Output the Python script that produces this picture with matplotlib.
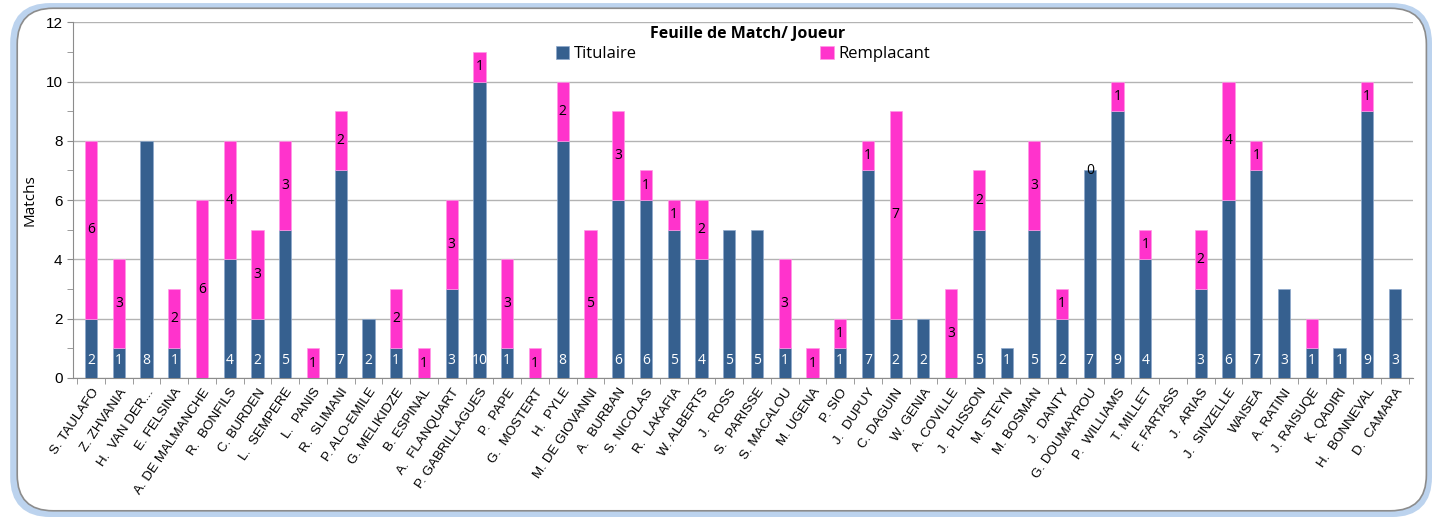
import matplotlib
matplotlib.use('Agg')
import matplotlib.pyplot as plt
from matplotlib.patches import FancyBboxPatch
from matplotlib.ticker import MultipleLocator
import numpy as np

players = ['S. TAULAFO', 'Z. ZHVANIA', 'H.  VAN DER...', 'E. FELSINA', 'A. DE MALMANCHE',
           'R.  BONFILS', 'C. BURDEN', 'L.  SEMPERE', 'L.  PANIS', 'R.  SLIMANI',
           'P. ALO-EMILE', 'G. MELIKIDZE', 'B. ESPINAL', 'A.  FLANQUART', 'P. GABRILLAGUES',
           'P.  PAPE', 'G.  MOSTERT', 'H.  PYLE', 'M. DE GIOVANNI', 'A.  BURBAN',
           'S. NICOLAS', 'R.  LAKAFIA', 'W. ALBERTS', 'J.  ROSS', 'S.  PARISSE',
           'S. MACALOU', 'M. UGENA', 'P. SIO', 'J.  DUPUY', 'C. DAGUIN',
           'W. GENIA', 'A. COVILLE', 'J.  PLISSON', 'M. STEYN', 'M. BOSMAN',
           'J.  DANTY', 'G. DOUMAYROU', 'P.  WILLIAMS', 'T. MILLET', 'F. FARTASS',
           'J.  ARIAS', 'J.  SINZELLE', 'WAISEA', 'A. RATINI', 'J. RAISUQE',
           'K. QADIRI', 'H.  BONNEVAL', 'D.  CAMARA']
titulaire = [2, 1, 8, 1, 0, 4, 2, 5, 0, 7, 2, 1, 0, 3, 10, 1, 0, 8, 0, 6,
             6, 5, 4, 5, 5, 1, 0, 1, 7, 2, 2, 0, 5, 1, 5, 2, 7, 9, 4, 0,
             3, 6, 7, 3, 1, 1, 9, 3]
remplacant = [6, 3, 0, 2, 6, 4, 3, 3, 1, 2, 0, 2, 1, 3, 1, 3, 1, 2, 5, 3,
              1, 1, 2, 0, 0, 3, 1, 1, 1, 7, 0, 3, 2, 0, 3, 1, 0, 1, 1, 0,
              2, 4, 1, 0, 1, 0, 1, 0]
# label quirks of the original chart
show_zero_label = ['G. DOUMAYROU']
hide_label = ['J. RAISUQE']

blue = '#36608F'
pink = '#FF33CC'

fig = plt.figure(figsize=(14.35, 5.17), dpi=100)
plt.rcParams['font.family'] = ['Liberation Sans', 'DejaVu Sans']
ui_font = ['Open Sans', 'DejaVu Sans']

# rounded frame with soft blue shadow
shadow = FancyBboxPatch((0.010, 0.008), 0.985, 0.978, boxstyle='round,pad=0,rounding_size=0.025',
                        transform=fig.transFigure, facecolor='none', edgecolor='#BCD3EE',
                        linewidth=6, zorder=0, mutation_aspect=1435 / 517)
frame = FancyBboxPatch((0.012, 0.012), 0.982, 0.972, boxstyle='round,pad=0,rounding_size=0.025',
                       transform=fig.transFigure, facecolor='white', edgecolor='#8C8C8C',
                       linewidth=1.2, zorder=1, mutation_aspect=1435 / 517)
fig.patches.extend([shadow, frame])

ax = fig.add_axes([0.0509, 0.269, 0.9338, 0.688])
ax.set_zorder(2)
ax.patch.set_alpha(0)

x = np.arange(len(players))
w = 0.44
ax.bar(x, titulaire, w, color=blue, edgecolor='#8EA9CC',
       linewidth=[0.5 if v > 0 else 0 for v in titulaire], label='Titulaire', zorder=3)
ax.bar(x, remplacant, w, bottom=titulaire, color=pink, edgecolor='#FF99E6',
       linewidth=[0.5 if v > 0 else 0 for v in remplacant], label='Remplacant', zorder=3)

for i, p in enumerate(players):
    if titulaire[i] > 0:
        ax.text(x[i], 0.58, str(titulaire[i]), ha='center', va='center', color='white',
                fontsize=10, family=ui_font, zorder=4)
    r = remplacant[i]
    if (r > 0 and p not in hide_label) or p in show_zero_label:
        ax.text(x[i], titulaire[i] + r / 2, str(r), ha='center', va='center', color='black',
                fontsize=10, family=ui_font, zorder=4)

ax.set_xlim(-0.65, len(players) - 0.35)
ax.set_ylim(0, 12)
ax.yaxis.set_major_locator(MultipleLocator(2))
ax.yaxis.set_minor_locator(MultipleLocator(1))
ax.grid(axis='y', which='major', color='#B3B3B3', linewidth=1, zorder=0)
ax.set_axisbelow(True)
for s in ['top', 'right']:
    ax.spines[s].set_visible(False)
ax.spines['left'].set_color('#8C8C8C')
ax.spines['bottom'].set_color('#8C8C8C')
ax.tick_params(axis='y', which='both', direction='out', length=4, color='#8C8C8C', labelsize=11)
ax.tick_params(axis='x', which='major', length=0)

ax.set_xticks(x)
ax.set_xticklabels(players, rotation=56, ha='right', va='top', rotation_mode='anchor', fontsize=9.6)
ax.tick_params(axis='x', pad=6)
ax.set_xticks(np.arange(-0.5, len(players), 1.0), minor=True)
ax.tick_params(axis='x', which='minor', direction='out', length=4, color='#8C8C8C')

ax.set_ylabel('Matchs', fontsize=11, family=ui_font, labelpad=6)

fig.text(0.521, 0.935, 'Feuille de Match/ Joueur', ha='center', va='center', fontsize=11.5,
         fontweight='bold', family=ui_font, zorder=5)
ax.legend(loc='upper center', bbox_to_anchor=(0.5, 0.975), ncol=2, frameon=False,
          handlelength=0.8, handleheight=0.8, handletextpad=0.3, columnspacing=11,
          prop={'family': ui_font, 'size': 12})

fig.savefig('out.png', dpi=100)
